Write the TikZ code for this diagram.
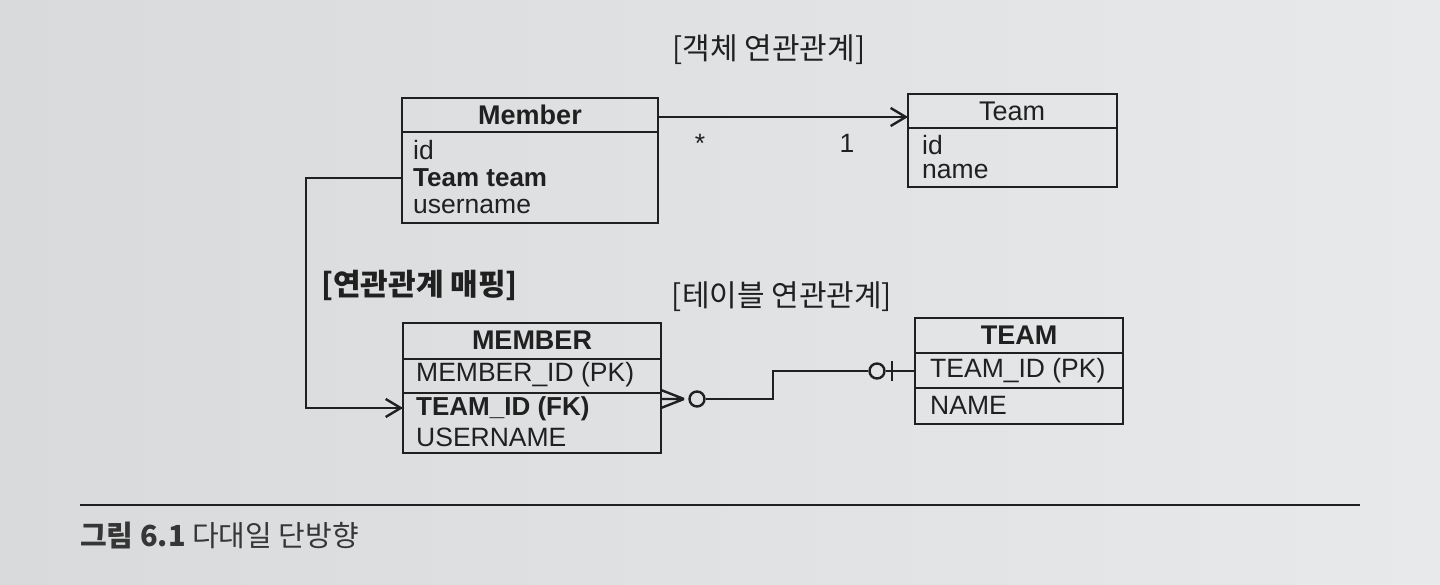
\documentclass[tikz,border=0pt]{standalone}
\usepackage{fontspec}
\setmainfont{Liberation Sans}
\newfontfamily\kr{Noto Sans CJK KR}
\usetikzlibrary{arrows.meta}
\definecolor{ink}{HTML}{202020}
\definecolor{bgl}{HTML}{D9DADC}
\definecolor{bgr}{HTML}{E8E9EB}
\tikzset{
  box/.style={draw=ink, line width=2.4pt, anchor=north west, inner sep=0pt, outer sep=0pt},
  ttl/.style={font=\fontsize{27}{30}\selectfont\bfseries, text=ink, inner sep=0pt},
  fld/.style={font=\fontsize{26.5}{30}\selectfont, text=ink, anchor=west, inner sep=0pt},
  fldb/.style={fld, font=\fontsize{26}{30}\selectfont\bfseries},
  lbl/.style={font=\kr\fontsize{30}{34}\selectfont, text=ink, inner sep=0pt},
  conn/.style={draw=ink, line width=2.4pt},
  tip/.style={-{Straight Barb[length=15pt,width=18pt,line width=2.4pt]}}
}
\begin{document}
\begin{tikzpicture}[x=1pt,y=-1pt]
\useasboundingbox (0,0) rectangle (1440,585);
\shade[left color=bgl, right color=bgr] (0,0) rectangle (1440,585);

% Member (object)
\node[box, minimum width=256pt, minimum height=34pt] (memhead) at (402,98) {};
\node[box, minimum width=256pt, minimum height=91pt] (membody) at (402,132) {};
\node[ttl] (memt) at (530,115) {Member};
\node[fld] (mid) at (413,150) {id};
\node[fldb] (mteam) at (413,178) {Team team};
\node[fld] (muser) at (413,207) {username};

% Team (object)
\node[box, minimum width=209pt, minimum height=34pt] (teamhead) at (908,94) {};
\node[box, minimum width=209pt, minimum height=59pt] (teambody) at (908,128) {};
\node[ttl, font=\fontsize{27}{30}\selectfont] (teamt) at (1012,111) {Team};
\node[fld] (tid) at (922,145) {id};
\node[fld] (tname) at (922,172) {name};

% MEMBER (table)
\node[box, minimum width=258pt, minimum height=36pt] (MEMhead) at (403,323) {};
\node[box, minimum width=258pt, minimum height=34pt] (MEMr1) at (403,359) {};
\node[box, minimum width=258pt, minimum height=60pt] (MEMr2) at (403,393) {};
\node[ttl] (MEMt) at (532,340) {MEMBER};
\node[fld] (Mpk) at (416,375) {MEMBER\_ID (PK)};
\node[fldb] (Mfk) at (416,409) {TEAM\_ID (FK)};
\node[fld] (Muser) at (416,437) {USERNAME};

% TEAM (table)
\node[box, minimum width=208pt, minimum height=35pt] (TEAMhead) at (915,318) {};
\node[box, minimum width=208pt, minimum height=35pt] (TEAMr1) at (915,353) {};
\node[box, minimum width=208pt, minimum height=36pt] (TEAMr2) at (915,388) {};
\node[ttl] (TEAMt) at (1019,335) {TEAM};
\node[fld] (Tpk) at (930,371) {TEAM\_ID (PK)};
\node[fld] (Tname) at (930,405) {NAME};

% labels
\node[lbl] (objlbl) at (769,50) {[객체 연관관계]};
\node[lbl] (tbllbl) at (782,297) {[테이블 연관관계]};
\node[lbl, anchor=west, font=\kr\fontsize{30}{34}\selectfont\bfseries] (maplbl) at (321,285) {[연관관계 매핑]};
\node[fld, anchor=center] (many) at (700,143) {*};
\node[fld, anchor=center] (one) at (847,143) {1};

% object association arrow
\draw[conn, tip] ([yshift=-2pt]memhead.east) -- ([yshift=-2pt]memhead.east -| teamhead.west);

% mapping connector
\coordinate (mapcorner1) at (306,178);
\coordinate (mapcorner2) at (306,408);
\draw[conn, tip] (membody.west |- mteam) -- (mapcorner1) -- (mapcorner2) -- (mapcorner2 -| MEMr2.west);

% crow's foot relation
\coordinate (cfa) at (661,390);
\coordinate (cfb) at (661,399);
\coordinate (cfc) at (661,408);
\coordinate (cfp) at (684,399);
\node[circle, draw=ink, line width=2.4pt, minimum size=15pt, inner sep=0pt] (c1) at (697,399) {};
\node[circle, draw=ink, line width=2.4pt, minimum size=15pt, inner sep=0pt] (c2) at (877,371) {};
\coordinate (bend1) at (773,399);
\coordinate (bend2) at (773,371);
\draw[conn] (cfa) -- (cfp) (cfb) -- (cfp) (cfc) -- (cfp);
\draw[conn] (c1.east) -- (bend1) -- (bend2) -- (c2.west);
\draw[conn] (c2.east) -- (TEAMr1.west |- c2);
\coordinate (tickt) at (892,361);
\coordinate (tickb) at (892,381);
\draw[conn] (tickt) -- (tickb);

% caption
\coordinate (rulel) at (80,505);
\coordinate (ruler) at (1360,505);
\draw[draw=ink, line width=1.8pt] (rulel) -- (ruler);
\node[anchor=west, inner sep=0pt, text=ink!90, font=\kr\fontsize{29}{33}\selectfont] (cap) at (80,536) {{\bfseries 그림 6.1} 다대일 단방향};
\end{tikzpicture}
\end{document}
